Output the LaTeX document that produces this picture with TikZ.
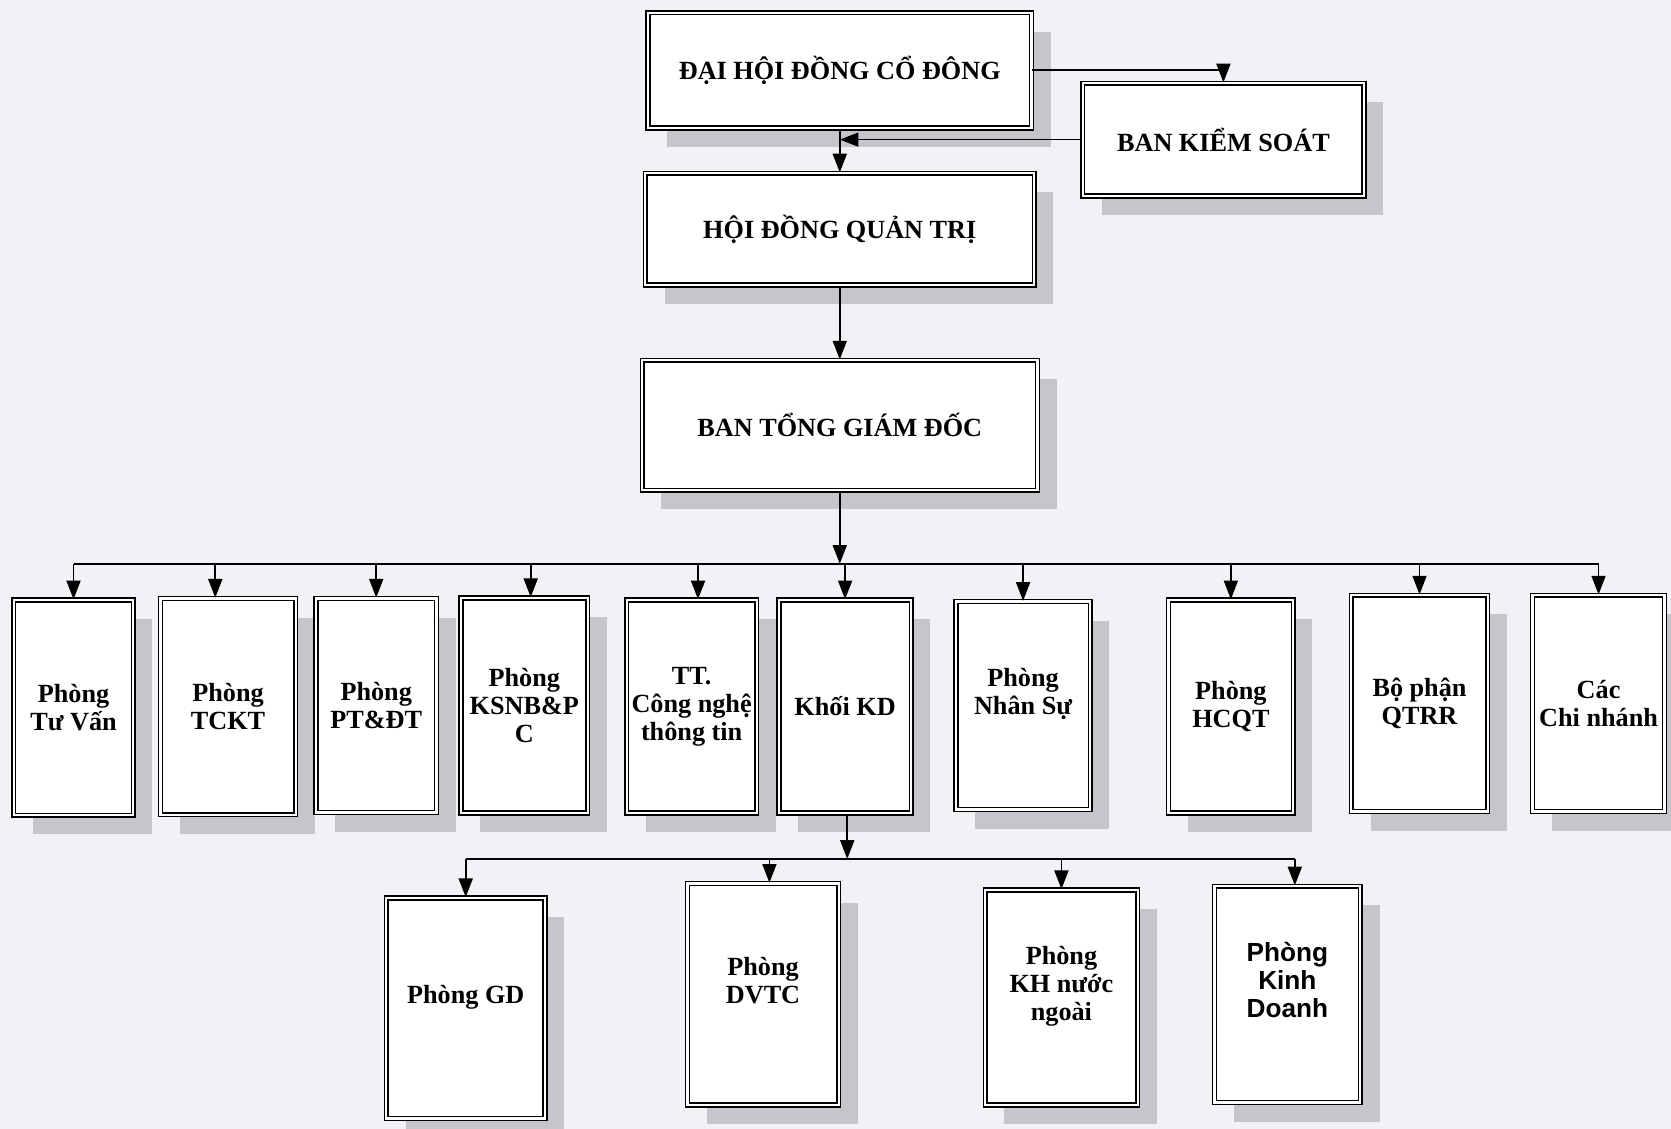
\documentclass[tikz,border=0pt]{standalone}
\usepackage{fontspec}
\setmainfont{Liberation Serif}
\newfontfamily\arialfont{Liberation Sans}
\usetikzlibrary{arrows.meta}
\usetikzlibrary{shadows}
\definecolor{paper}{RGB}{241,242,245}
\definecolor{shadowgray}{RGB}{196,198,204}
\tikzset{
  unitbox/.style={draw, line width=0.8pt, double=white, double distance=1.2pt, fill=white,
    inner sep=1pt, align=center, font=\bfseries\fontsize{14}{15}\selectfont,
    drop shadow={shadow xshift=0.36cm, shadow yshift=-0.36cm, fill=shadowgray, opacity=1}},
  link/.style={line width=0.9pt}
}

\begin{document}
\begin{tikzpicture}[x=0.02cm, y=-0.02cm, >={Triangle[length=10pt,width=7.5pt]}]
\fill[paper] (0,0) rectangle (1568,1059);
\useasboundingbox (0,0) rectangle (1568,1059);

\node[unitbox, minimum width=7.2cm, minimum height=2.16cm] (dhdcd) at (788,66) {ĐẠI HỘI ĐỒNG CỔ ĐÔNG};
\node[unitbox, minimum width=5.28cm, minimum height=2.12cm] (bks) at (1148,131) {BAN KIỂM SOÁT};
\node[unitbox, minimum width=7.3cm, minimum height=2.1cm] (hdqt) at (788,215) {HỘI ĐỒNG QUẢN TRỊ};
\node[unitbox, minimum width=7.42cm, minimum height=2.44cm] (btgd) at (788,399) {BAN TỔNG GIÁM ĐỐC};

\node[unitbox, minimum width=2.24cm, minimum height=4.04cm] (tuvan) at (69,664) {Phòng\\Tư Vấn};
\node[unitbox, minimum width=2.54cm, minimum height=4.06cm] (tckt) at (214,663) {Phòng\\TCKT};
\node[unitbox, minimum width=2.26cm, minimum height=4.02cm] (ptdt) at (353,662) {Phòng\\PT\&ĐT};
\node[unitbox, minimum width=2.38cm, minimum height=4.04cm] (ksnb) at (492,662) {Phòng\\KSNB\&P\\C};
\node[unitbox, minimum width=2.44cm, minimum height=4.0cm] (cntt) at (649,663) {TT.\\Công nghệ\\thông tin};
\node[unitbox, minimum width=2.48cm, minimum height=4.0cm] (khoikd) at (793,663) {Khối KD};
\node[unitbox, minimum width=2.52cm, minimum height=3.9cm] (nhansu) at (960,662) {Phòng\\Nhân Sự\\~};
\node[unitbox, minimum width=2.34cm, minimum height=4.0cm] (hcqt) at (1155,663) {Phòng\\HCQT};
\node[unitbox, minimum width=2.56cm, minimum height=4.06cm] (qtrr) at (1332,660) {Bộ phận\\QTRR};
\node[unitbox, minimum width=2.48cm, minimum height=4.06cm] (chinhanh) at (1500,660) {Các\\Chi nhánh};

\node[unitbox, minimum width=2.98cm, minimum height=4.14cm] (phonggd) at (437,946) {Phòng GD\\~};
\node[unitbox, minimum width=2.84cm, minimum height=4.16cm] (dvtc) at (716,933) {Phòng\\DVTC\\~};
\node[unitbox, minimum width=2.86cm, minimum height=4.04cm] (khnn) at (996,936) {Phòng\\KH nước\\ngoài\\~};
\node[unitbox, minimum width=2.74cm, minimum height=4.06cm,
  font=\arialfont\bfseries\fontsize{14}{15}\selectfont] (kinhdoanh) at (1208,933) {Phòng\\Kinh\\Doanh\\~};

\draw[->, link] (dhdcd.east) -| (bks.north);
\draw[->, link] (bks.west) -- (bks.west -| dhdcd.south);
\draw[->, link] (dhdcd.south) -- (hdqt.north);
\draw[->, link] (hdqt.south) -- (btgd.north);

\coordinate (bus) at (788,529);
\draw[->, link] (btgd.south) -- (bus);
\draw[link] (tuvan.north |- bus) -- (chinhanh.north |- bus);
\draw[->, link] (tuvan.north |- bus) -- (tuvan.north);
\draw[->, link] ([xshift=-0.24cm]tckt.north |- bus) -- ([xshift=-0.24cm]tckt.north);
\draw[->, link] (ptdt.north |- bus) -- (ptdt.north);
\draw[->, link] ([xshift=0.12cm]ksnb.north |- bus) -- ([xshift=0.12cm]ksnb.north);
\draw[->, link] ([xshift=0.12cm]cntt.north |- bus) -- ([xshift=0.12cm]cntt.north);
\draw[->, link] (khoikd.north |- bus) -- (khoikd.north);
\draw[->, link] (nhansu.north |- bus) -- (nhansu.north);
\draw[->, link] (hcqt.north |- bus) -- (hcqt.north);
\draw[->, link] (qtrr.north |- bus) -- (qtrr.north);
\draw[->, link] (chinhanh.north |- bus) -- (chinhanh.north);

\coordinate (kdbus) at (795,806);
\draw[->, link] (khoikd.south -| kdbus) -- (kdbus);
\draw[link] (phonggd.north |- kdbus) -- ([xshift=0.14cm]kinhdoanh.north |- kdbus);
\draw[->, link] (phonggd.north |- kdbus) -- (phonggd.north);
\draw[->, link] ([xshift=0.12cm]dvtc.north |- kdbus) -- ([xshift=0.12cm]dvtc.north);
\draw[->, link] (khnn.north |- kdbus) -- (khnn.north);
\draw[->, link] ([xshift=0.14cm]kinhdoanh.north |- kdbus) -- ([xshift=0.14cm]kinhdoanh.north);
\end{tikzpicture}
\end{document}
